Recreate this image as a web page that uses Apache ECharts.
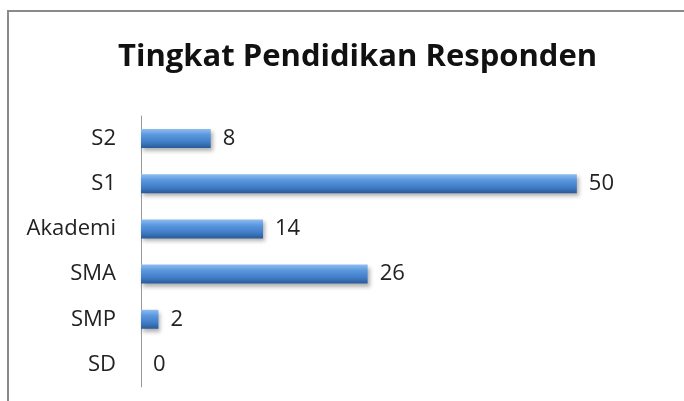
<!DOCTYPE html>
<html><head><meta charset="utf-8">
<script src="https://cdn.jsdelivr.net/npm/echarts@6/dist/echarts.min.js"></script>
<style>html,body{margin:0;padding:0;background:#fff}#c{width:684px;height:401px}</style>
</head><body><div id="c"></div>
<script>
const title = 'Tingkat Pendidikan Responden';
const categories = ['SD', 'SMP', 'SMA', 'Akademi', 'S1', 'S2'];
const values = [0, 2, 26, 14, 50, 8];

const chart = echarts.init(document.getElementById('c'));
chart.setOption({
  animation: false,
  title: {
    text: title, left: 113, top: 37,
    textStyle: {fontFamily: 'Open Sans', fontWeight: 'bold', fontSize: 31, color: '#111'}
  },
  graphic: [{
    type: 'rect', shape: {x: 8, y: 11, width: 700, height: 420},
    style: {fill: 'none', stroke: '#8a8a8a', lineWidth: 2}
  }],
  grid: {left: 141, right: 20, top: 116, bottom: 14},
  xAxis: {type: 'value', min: 0, max: 60, show: false},
  yAxis: {
    type: 'category', data: categories,
    axisLine: {show: true, lineStyle: {color: '#999', width: 1}},
    axisTick: {show: false},
    axisLabel: {fontFamily: 'Open Sans', fontSize: 22, color: '#222', margin: 25, padding: [3, 0, 0, 0]}
  },
  series: [{
    type: 'bar', data: values, barWidth: 19,
    itemStyle: {
      color: new echarts.graphic.LinearGradient(0, 0, 0, 1, [
        {offset: 0, color: '#8fbdf0'},
        {offset: 0.3, color: '#5b98de'},
        {offset: 0.7, color: '#3f7cc6'},
        {offset: 1, color: '#2a5a96'}
      ]),
      shadowColor: 'rgba(0,0,0,0.3)', shadowBlur: 4, shadowOffsetX: 2, shadowOffsetY: 3
    },
    label: {show: true, position: 'right', distance: 12, fontFamily: 'Open Sans', fontSize: 22, color: '#222', padding: [3, 0, 0, 0]}
  }]
});
</script></body></html>
